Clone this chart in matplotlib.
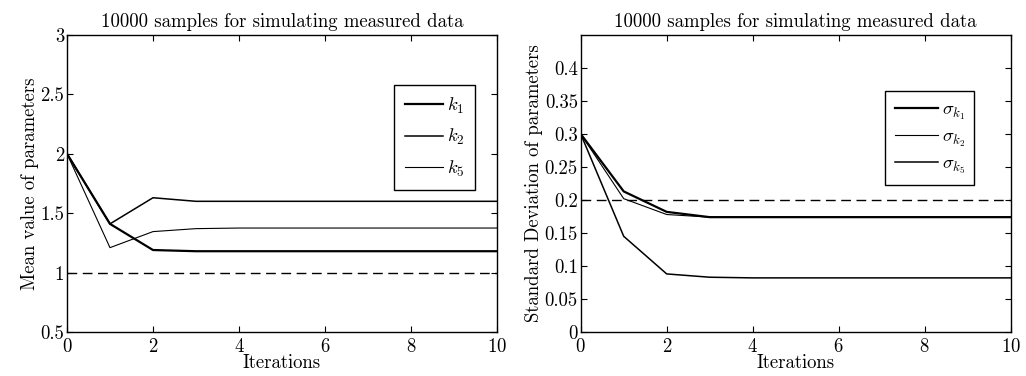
import matplotlib
matplotlib.use("Agg")
import matplotlib.pyplot as plt

plt.rcParams["font.family"] = "serif"
plt.rcParams["font.serif"] = ["cmr10", "DejaVu Serif"]
plt.rcParams["mathtext.fontset"] = "cm"
plt.rcParams["axes.formatter.use_mathtext"] = True

iterations = list(range(11))

# mean values
mean_k1 = [2.0, 1.41, 1.19, 1.18, 1.18, 1.18, 1.18, 1.18, 1.18, 1.18, 1.18]
mean_k2 = [2.0, 1.41, 1.63, 1.60, 1.60, 1.60, 1.60, 1.60, 1.60, 1.60, 1.60]
mean_k5 = [2.0, 1.21, 1.345, 1.37, 1.375, 1.375, 1.375, 1.375, 1.375, 1.375, 1.375]
mean_true = 1.0

# standard deviations
std_k1 = [0.30, 0.213, 0.182, 0.174, 0.174, 0.174, 0.174, 0.174, 0.174, 0.174, 0.174]
std_k2 = [0.30, 0.202, 0.178, 0.174, 0.174, 0.174, 0.174, 0.174, 0.174, 0.174, 0.174]
std_k5 = [0.30, 0.145, 0.088, 0.083, 0.082, 0.082, 0.082, 0.082, 0.082, 0.082, 0.082]
std_true = 0.2

title = "10000 samples for simulating measured data"
fs = 13.5

fig = plt.figure(figsize=(10.26, 3.76), dpi=100)
ax1 = fig.add_axes([0.0653, 0.117, 0.419, 0.790])
ax2 = fig.add_axes([0.566, 0.117, 0.419, 0.790])

ax1.plot(iterations, mean_k1, color="black", lw=1.6, label=r"$k_1$")
ax1.plot(iterations, mean_k2, color="black", lw=1.1, label=r"$k_2$")
ax1.plot(iterations, mean_k5, color="black", lw=0.8, label=r"$k_5$")
ax1.axhline(mean_true, color="black", lw=1.0, ls=(0, (7, 4)))
ax1.set_xlim(0, 10)
ax1.set_ylim(0.5, 3)
ax1.set_yticks([0.5, 1, 1.5, 2, 2.5, 3])
ax1.set_yticklabels(["0.5", "1", "1.5", "2", "2.5", "3"])
ax1.set_ylabel("Mean value of parameters", fontsize=fs, labelpad=1)
ax1.legend(loc="upper right", bbox_to_anchor=(0.95, 0.833), fontsize=fs,
           fancybox=False, edgecolor="black", framealpha=1, handlelength=2.0,
           handletextpad=0.2, labelspacing=0.6, borderpad=0.6,
           borderaxespad=0)

ax2.plot(iterations, std_k1, color="black", lw=1.6, label=r"$\sigma_{k_1}$")
ax2.plot(iterations, std_k2, color="black", lw=0.8, label=r"$\sigma_{k_2}$")
ax2.plot(iterations, std_k5, color="black", lw=1.1, label=r"$\sigma_{k_5}$")
ax2.axhline(std_true, color="black", lw=1.0, ls=(0, (7, 4)))
ax2.set_xlim(0, 10)
ax2.set_ylim(0, 0.45)
ax2.set_yticks([0, 0.05, 0.1, 0.15, 0.2, 0.25, 0.3, 0.35, 0.4])
ax2.set_yticklabels(["0", "0.05", "0.1", "0.15", "0.2", "0.25", "0.3", "0.35", "0.4"])
ax2.set_ylabel("Standard Deviation of parameters", fontsize=fs, labelpad=1)
ax2.legend(loc="upper right", bbox_to_anchor=(0.916, 0.811), fontsize=fs,
           fancybox=False, edgecolor="black", framealpha=1, handlelength=2.3,
           handletextpad=0.2, labelspacing=0.3, borderpad=0.5,
           borderaxespad=0)

for ax in (ax1, ax2):
    ax.set_xticks([0, 2, 4, 6, 8, 10])
    ax.set_xlabel("Iterations", fontsize=fs, labelpad=-1)
    ax.set_title(title, fontsize=fs, pad=6)
    ax.tick_params(direction="in", top=True, right=True, labelsize=fs,
                   length=4)
    ax.tick_params(axis="x", pad=4)
    ax.tick_params(axis="y", pad=2)
    for s in ax.spines.values():
        s.set_linewidth(1.0)

fig.savefig("out.png", dpi=100)
